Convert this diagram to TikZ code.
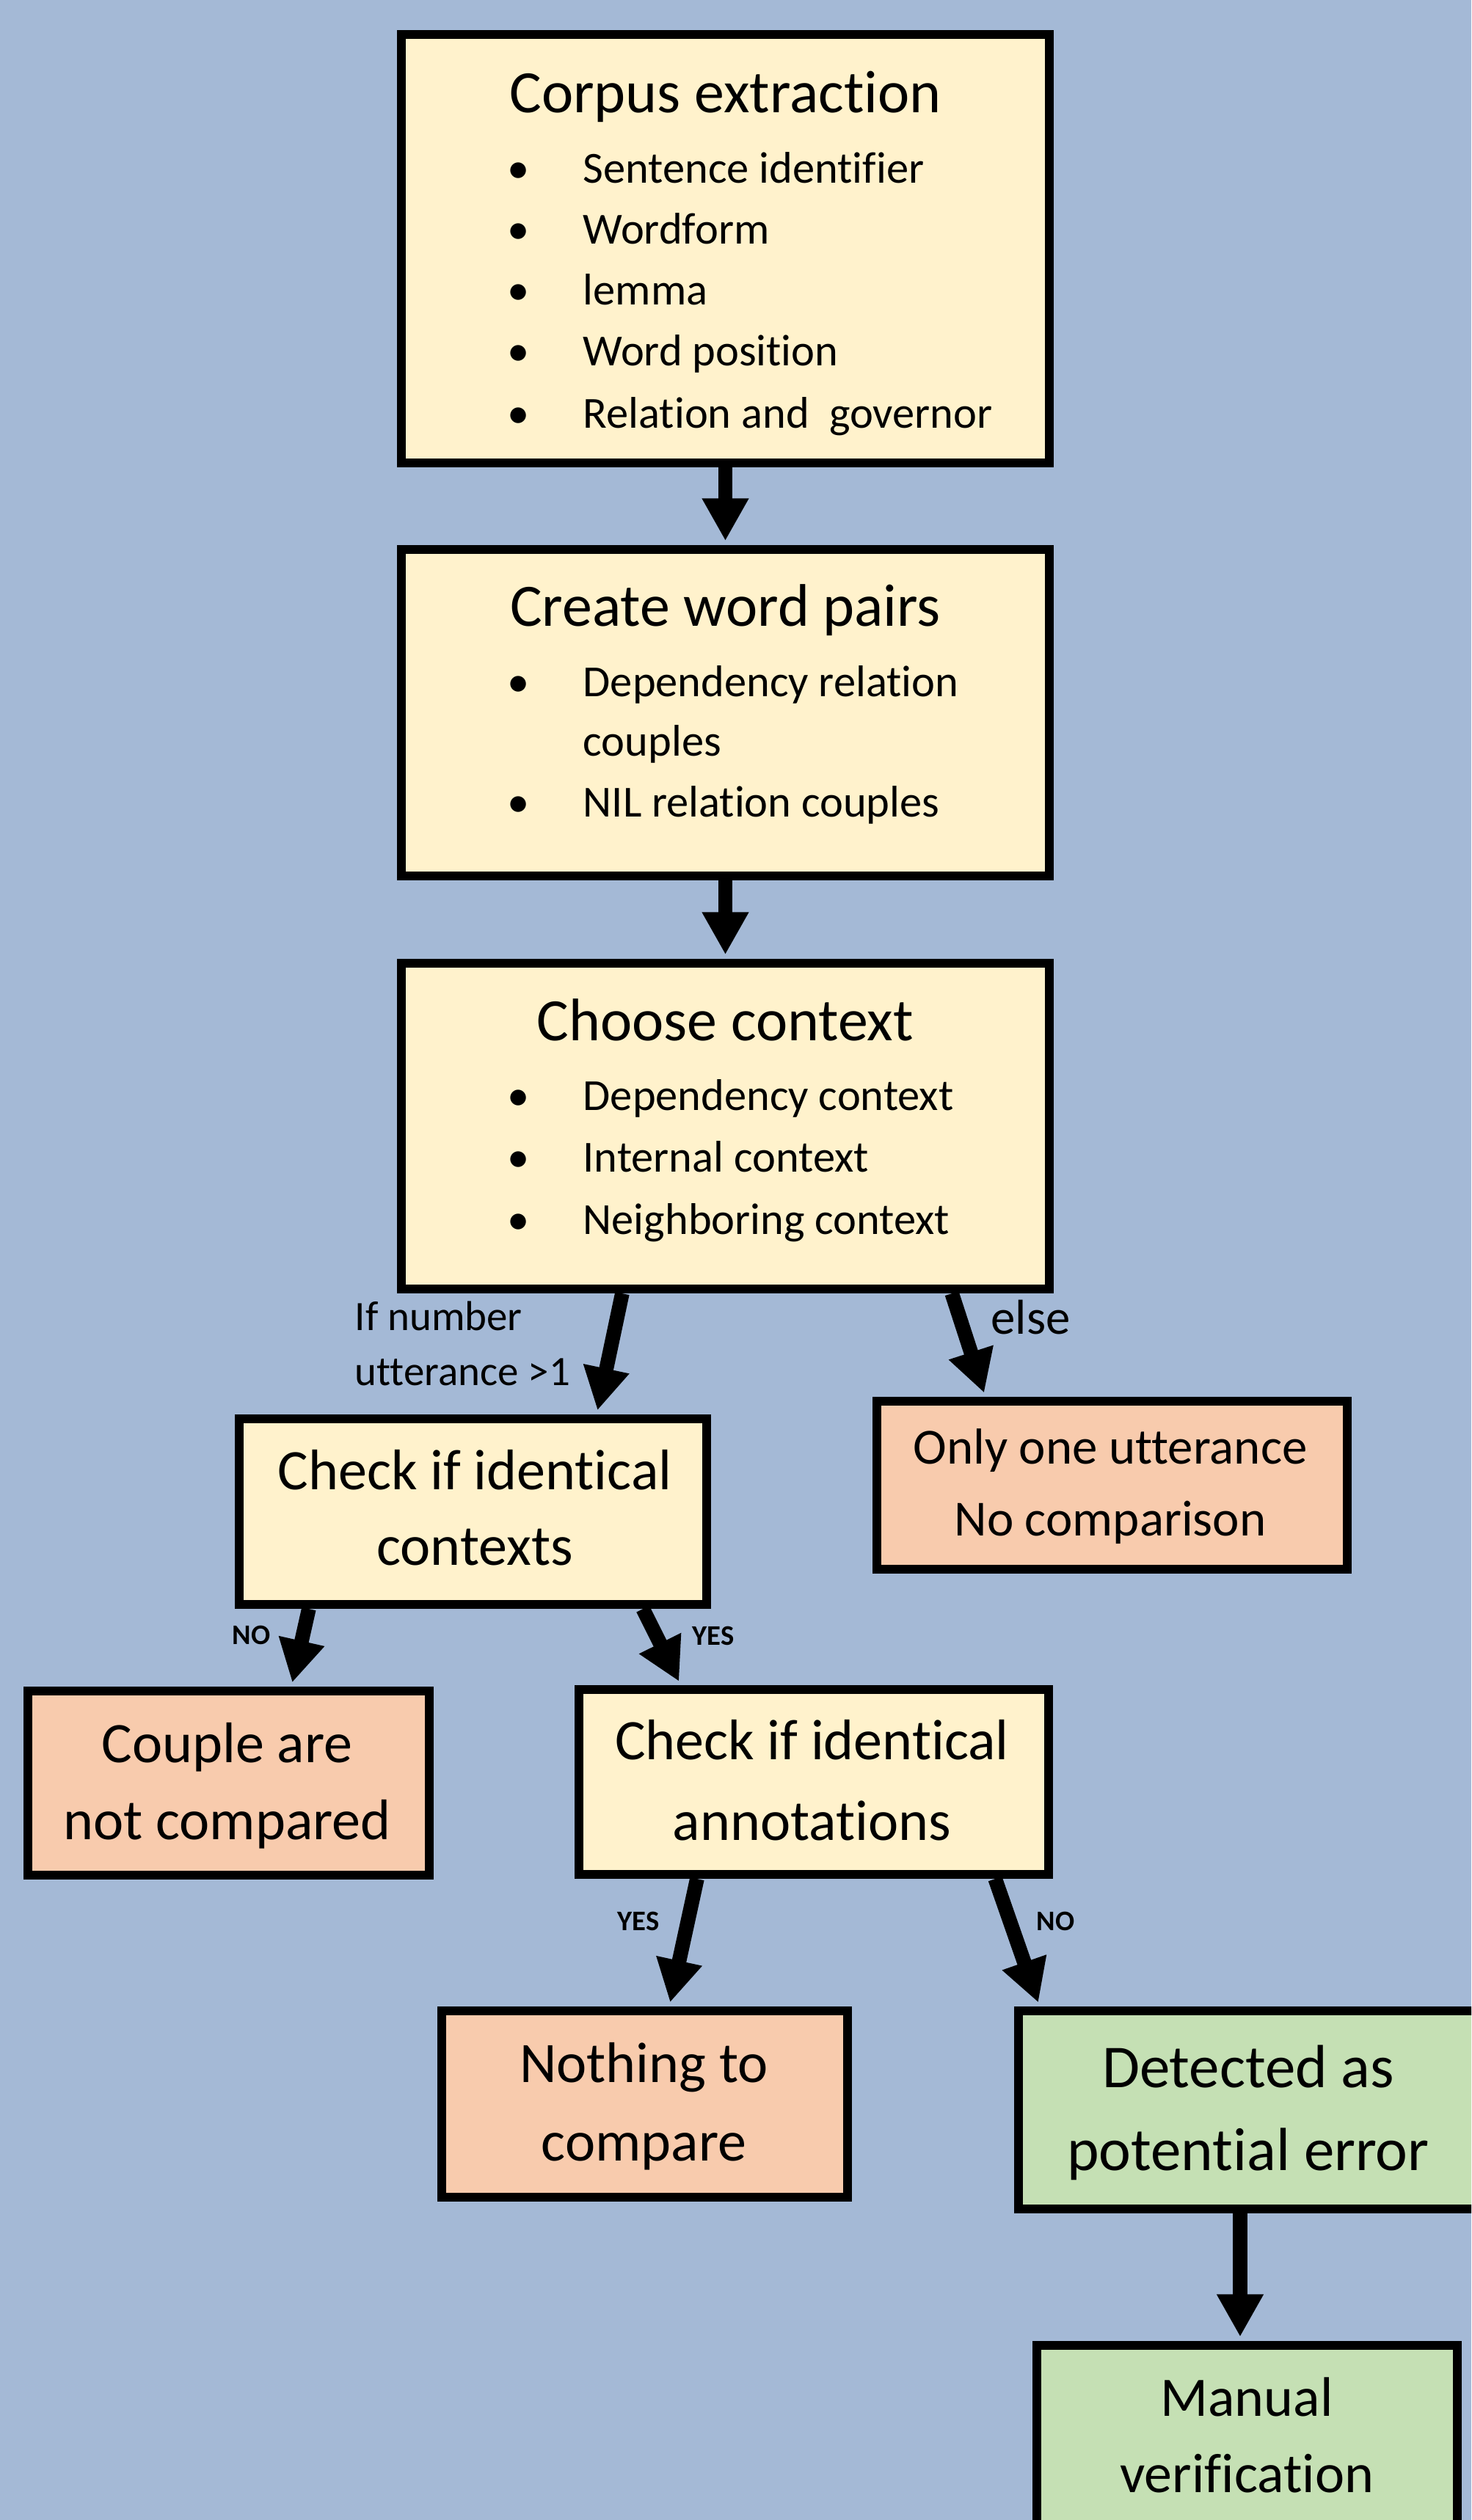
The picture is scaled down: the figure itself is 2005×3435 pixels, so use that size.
\documentclass[tikz,border=0pt]{standalone}
\usepackage{fontspec}
\setmainfont{Carlito}[Ligatures={NoCommon,NoContextual}]
\usetikzlibrary{arrows.meta,calc}
\definecolor{bgblue}{RGB}{164,185,214}
\definecolor{ylw}{RGB}{255,242,204}
\definecolor{slm}{RGB}{248,203,173}
\definecolor{grn}{RGB}{197,224,180}
\begin{document}
\begin{tikzpicture}[x=0.01cm,y=-0.01cm,
  flowbox/.style={draw=black, line width=3.4pt, inner sep=0pt, rectangle, line join=miter},
  ybox/.style={flowbox, fill=ylw},
  sbox/.style={flowbox, fill=slm},
  gbox/.style={flowbox, fill=grn},
  conn/.style={line width=5.6pt, -{Triangle[length=16.5pt,width=17pt]}, shorten >=1.6pt},
  ttl/.style={anchor=base, inner sep=0pt, font=\fontsize{23.3}{28}\selectfont},
  itm/.style={anchor=base west, inner sep=0pt, font=\fontsize{17.2}{20}\selectfont},
  bul/.style={anchor=base, inner sep=0pt, font=\fontsize{17.2}{20}\selectfont},
  txt/.style={anchor=base, inner sep=0pt, font=\fontsize{22.2}{26}\selectfont},
  lbl/.style={anchor=base west, inner sep=0pt, font=\fontsize{16.2}{19}\selectfont},
  yn/.style={anchor=base west, inner sep=0pt, font=\bfseries\fontsize{11}{13}\selectfont},
]
\useasboundingbox (0,0) rectangle (2005,3435);
\fill[bgblue] (0,0) rectangle (2005,3435);
\begin{scope}
\clip (0,0) rectangle (2005,3435);

% boxes
\node[ybox, minimum width=8.83cm, minimum height=5.84cm] (b1) at (988.5,339) {};
\node[ybox, minimum width=8.83cm, minimum height=4.45cm] (b2) at (988.5,971.5) {};
\node[ybox, minimum width=8.83cm, minimum height=4.44cm] (b3) at (988.5,1535) {};
\node[ybox, minimum width=6.37cm, minimum height=2.53cm] (b4) at (644.5,2060.5) {};
\node[sbox, minimum width=6.41cm, minimum height=2.29cm] (b5) at (1515.5,2024.5) {};
\node[sbox, minimum width=5.47cm, minimum height=2.51cm] (b6) at (311.5,2430.5) {};
\node[ybox, minimum width=6.40cm, minimum height=2.52cm] (b7) at (1109,2429) {};
\node[sbox, minimum width=5.53cm, minimum height=2.54cm] (b8) at (878.5,2868) {};
\node[gbox, minimum width=6.26cm, minimum height=2.70cm] (b9) at (1701,2876) {};
\node[gbox, minimum width=5.73cm, minimum height=2.78cm] (b10) at (1699.5,3336) {};

% box 1 text
\node[ttl] (t1) at (988.5,153) {Corpus extraction};
\node[bul] (p1a) at (707,249) {•};
\node[itm] (i1a) at (794,249) {Sentence identifier};
\node[bul] (p1b) at (707,332) {•};
\node[itm] (i1b) at (794,332) {Wordform};
\node[bul] (p1c) at (707,415) {•};
\node[itm] (i1c) at (794,415) {lemma};
\node[bul] (p1d) at (707,498) {•};
\node[itm] (i1d) at (794,498) {Word position};
\node[bul] (p1e) at (707,583) {•};
\node[itm] (i1e) at (794,583) {Relation and\ \ governor};

% box 2 text
\node[ttl] (t2) at (988.5,853) {Create word pairs};
\node[bul] (p2a) at (707,949) {•};
\node[itm] (i2a) at (794,949) {Dependency relation};
\node[itm] (i2b) at (794,1030) {couples};
\node[bul] (p2c) at (707,1113) {•};
\node[itm] (i2c) at (794,1113) {NIL relation couples};

% box 3 text
\node[ttl] (t3) at (988.5,1418) {Choose context};
\node[bul] (p3a) at (707,1513) {•};
\node[itm] (i3a) at (794,1513) {Dependency context};
\node[bul] (p3b) at (707,1597) {•};
\node[itm] (i3b) at (794,1597) {Internal context};
\node[bul] (p3c) at (707,1682) {•};
\node[itm] (i3c) at (794,1682) {Neighboring context};

% other box texts
\node[txt] (t4a) at (647,2030) {Check if identical};
\node[txt] (t4b) at (647,2133) {contexts};
\node[txt, font=\fontsize{19.6}{23}\selectfont] (t5a) at (1513,1995) {Only one utterance};
\node[txt, font=\fontsize{19.6}{23}\selectfont] (t5b) at (1513,2093) {No comparison};
\node[txt] (t6a) at (309.5,2402) {Couple are};
\node[txt] (t6b) at (309.5,2507) {not compared};
\node[txt] (t7a) at (1106.5,2398) {Check if identical};
\node[txt] (t7b) at (1106.5,2508) {annotations};
\node[txt] (t8a) at (877.5,2838) {Nothing to};
\node[txt] (t8b) at (877.5,2945) {compare};
\node[txt, font=\fontsize{23.6}{28}\selectfont] (t9a) at (1701,2845) {Detected as};
\node[txt, font=\fontsize{23.6}{28}\selectfont] (t9b) at (1701,2958) {potential error};
\node[txt, font=\fontsize{21.6}{26}\selectfont] (t10a) at (1699,3293) {Manual};
\node[txt, font=\fontsize{21.6}{26}\selectfont] (t10b) at (1699,3397) {verification};

% connectors
\draw[conn] (b1.south) -- (b2.north);
\draw[conn] (b2.south) -- (b3.north);
\draw[conn] ([xshift=-1.405cm]b3.south) -- ([xshift=1.685cm]b4.north);
\draw[conn] ([xshift=3.085cm]b3.south) -- ([xshift=-1.725cm]b5.north);
\draw[conn] ([xshift=-2.235cm]b4.south) -- ([xshift=0.855cm]b6.north);
\draw[conn] ([xshift=2.315cm]b4.south) -- ([xshift=-1.81cm]b7.north);
\draw[conn] ([xshift=-1.59cm]b7.south) -- ([xshift=0.335cm]b8.north);
\draw[conn] ([xshift=2.47cm]b7.south) -- ([xshift=-2.84cm]b9.north);
\draw[conn] ([xshift=-0.11cm]b9.south) -- ([xshift=-0.095cm]b10.north);

% connector labels
\node[lbl] (l1a) at (483,1813) {If number};
\node[lbl] (l1b) at (483,1888) {utterance >1};
\node[lbl, font=\fontsize{19}{23}\selectfont] (l2) at (1350,1818) {else};
\node[yn] (l3) at (316,2241) {NO};
\node[yn] (l4) at (943,2242) {YES};
\node[yn] (l5) at (841,2631) {YES};
\node[yn] (l6) at (1412,2631) {NO};
\end{scope}
\end{tikzpicture}
\end{document}
